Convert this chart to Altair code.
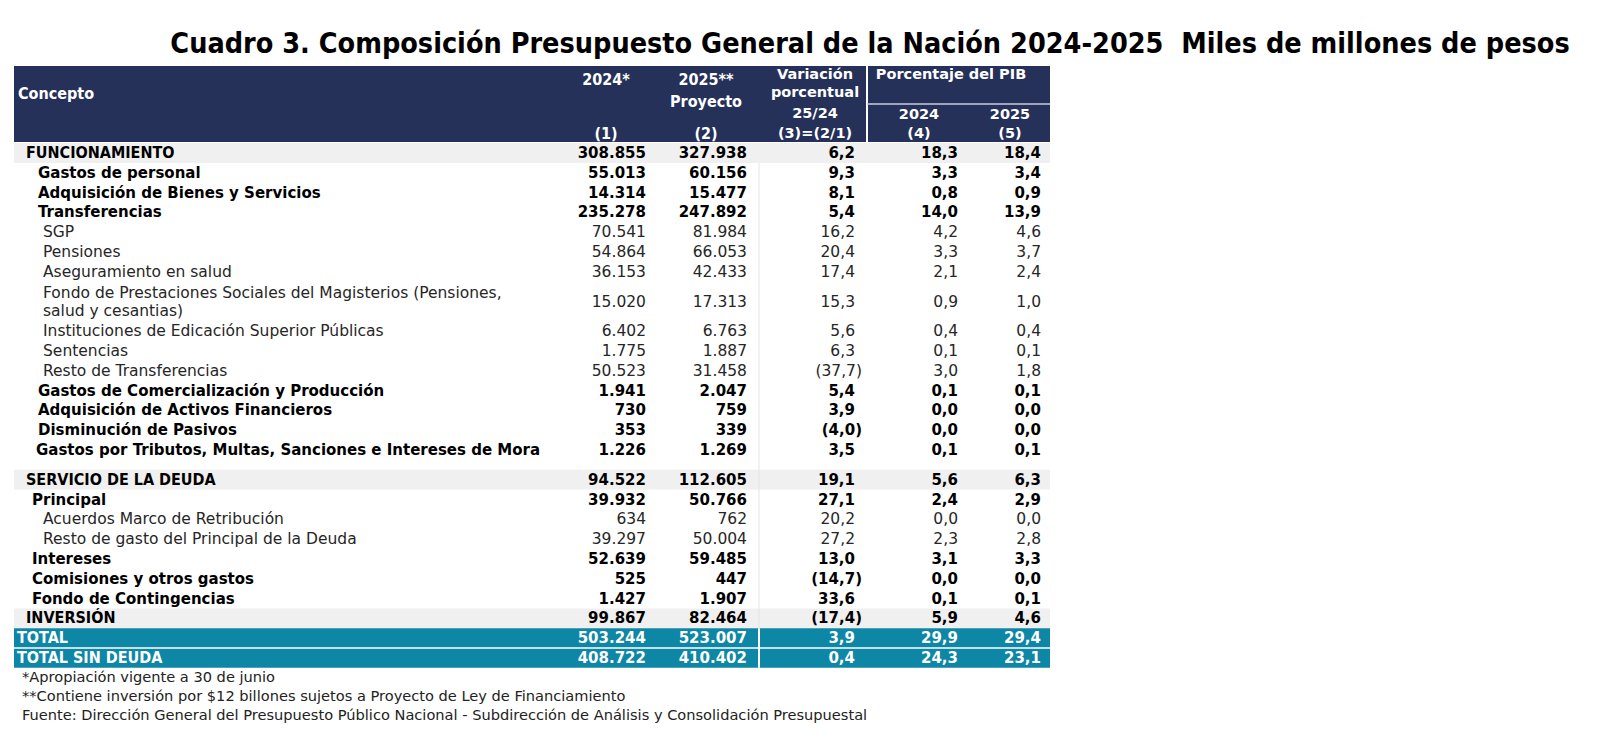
import altair as alt
import pandas as pd

# ---------------- data ----------------
title_text = "Cuadro 3. Composición Presupuesto General de la Nación 2024-2025\u00a0 Miles de millones de pesos"

concepts = [
    "FUNCIONAMIENTO",
    "Gastos de personal",
    "Adquisición de Bienes y Servicios",
    "Transferencias",
    "SGP",
    "Pensiones",
    "Aseguramiento en salud",
    "Fondo de Prestaciones Sociales del Magisterios (Pensiones,\nsalud y cesantias)",
    "Instituciones de Edicación Superior Públicas",
    "Sentencias",
    "Resto de Transferencias",
    "Gastos de Comercialización y Producción",
    "Adquisición de Activos Financieros",
    "Disminución de Pasivos",
    "Gastos por Tributos, Multas, Sanciones e Intereses de Mora",
    "SERVICIO DE LA DEUDA",
    "Principal",
    "Acuerdos Marco de Retribución",
    "Resto de gasto del Principal de la Deuda",
    "Intereses",
    "Comisiones y otros gastos",
    "Fondo de Contingencias",
    "INVERSIÓN",
    "TOTAL",
    "TOTAL SIN DEUDA",
]
levels = ["sec", "sub", "sub", "sub", "item", "item", "item", "item", "item", "item", "item",
          "sub", "sub", "sub", "sub2", "sec", "sub3", "item", "item", "sub3", "sub3", "sub3",
          "sec", "total", "total"]

v2024 = [308855, 55013, 14314, 235278, 70541, 54864, 36153, 15020, 6402, 1775, 50523, 1941, 730, 353,
         1226, 94522, 39932, 634, 39297, 52639, 525, 1427, 99867, 503244, 408722]
v2025 = [327938, 60156, 15477, 247892, 81984, 66053, 42433, 17313, 6763, 1887, 31458, 2047, 759, 339,
         1269, 112605, 50766, 762, 50004, 59485, 447, 1907, 82464, 523007, 410402]
var_pct = [6.2, 9.3, 8.1, 5.4, 16.2, 20.4, 17.4, 15.3, 5.6, 6.3, -37.7, 5.4, 3.9, -4.0, 3.5, 19.1,
           27.1, 20.2, 27.2, 13.0, -14.7, 33.6, -17.4, 3.9, 0.4]
pib2024 = [18.3, 3.3, 0.8, 14.0, 4.2, 3.3, 2.1, 0.9, 0.4, 0.1, 3.0, 0.1, 0.0, 0.0, 0.1, 5.6, 2.4, 0.0,
           2.3, 3.1, 0.0, 0.1, 5.9, 29.9, 24.3]
pib2025 = [18.4, 3.4, 0.9, 13.9, 4.6, 3.7, 2.4, 1.0, 0.4, 0.1, 1.8, 0.1, 0.0, 0.0, 0.1, 6.3, 2.9, 0.0,
           2.8, 3.3, 0.0, 0.1, 4.6, 29.4, 23.1]

head_concept = "Concepto"
head_c1 = ["2024*", "(1)"]
head_c2 = ["2025**", "Proyecto", "(2)"]
head_c3 = ["Variación", "porcentual", "25/24", "(3)=(2/1)"]
head_pib = "Porcentaje del PIB"
head_c4 = ["2024", "(4)"]
head_c5 = ["2025", "(5)"]

footnotes = [
    "*Apropiación vigente a 30 de junio",
    "**Contiene inversión por $12 billones sujetos a Proyecto de Ley de Financiamiento",
    "Fuente: Dirección General del Presupuesto Público Nacional - Subdirección de Análisis y Consolidación Presupuestal",
]

# ---------------- layout / style ----------------
W, H = 1584, 724
OFF = 8
NAVY = "#263159"
TEAL = "#0e86a5"
GRAY = "#f0f0f0"
WIDE = "DejaVu Sans"
COND = "DejaVu Sans Condensed"
BODY = 15
BODY_REG = 15.5

PITCH = 19.8
Y0 = 153
T_LEFT, T_RIGHT = 14, 1050
HEAD_TOP, HEAD_BOT = 66, 142
SEP_HEAD = 867
SEP_BODY = 759
INDENT = {"sec": 26, "sub": 38, "sub2": 36, "sub3": 32, "item": 43, "total": 17}
COL_R = [646, 747, 855, 958, 1041]
PAREN = 7
GAP_BEFORE = {"SERVICIO DE LA DEUDA": 0.5}

ypos, nlines = [], []
u = 0.0
for c in concepts:
    u += GAP_BEFORE.get(c, 0)
    n = c.count("\n") + 1
    ypos.append(Y0 + (u + (n - 1) / 2) * PITCH)
    nlines.append(n)
    u += n


def fint(v):
    return f"{v:,}".replace(",", ".")


def fdec(v):
    s = f"{abs(v):.1f}".replace(".", ",")
    return f"({s})" if v < 0 else s


def style_of(lv):
    if lv == "total":
        return "total"
    if lv == "item":
        return "reg"
    return "bold"


# label rows
lab_rows = []
for c, lv, y in zip(concepts, levels, ypos):
    parts = c.split("\n")
    k = len(parts)
    for j, p in enumerate(parts):
        yy = y + (j - (k - 1) / 2) * 18
        lab_rows.append({"x": INDENT[lv], "y": yy, "t": p,
                         "st": "sec" if lv in ("sec", "total") else style_of(lv),
                         "tot": lv == "total"})
labels = pd.DataFrame(lab_rows)

# number cells
cell_rows = []
for i, lv in enumerate(levels):
    vals = [(fint(v2024[i]), False), (fint(v2025[i]), False), (fdec(var_pct[i]), var_pct[i] < 0),
            (fdec(pib2024[i]), pib2024[i] < 0), (fdec(pib2025[i]), pib2025[i] < 0)]
    for k, (t, neg) in enumerate(vals):
        cell_rows.append({"x": COL_R[k] + (PAREN if neg else 0), "y": ypos[i], "t": t, "st": style_of(lv)})
cells = pd.DataFrame(cell_rows)

# background rectangles
rects = [{"x": T_LEFT, "x2": T_RIGHT, "y": HEAD_TOP, "y2": HEAD_BOT, "f": NAVY}]
for lv, y, n in zip(levels, ypos, nlines):
    if lv == "sec":
        rects.append({"x": T_LEFT, "x2": T_RIGHT, "y": y - PITCH / 2, "y2": y + PITCH / 2, "f": GRAY})
    if lv == "total":
        rects.append({"x": T_LEFT, "x2": T_RIGHT, "y": y - PITCH / 2, "y2": y + PITCH / 2, "f": TEAL})
rects = pd.DataFrame(rects)

body_top = ypos[0] + PITCH / 2
tot_idx = [i for i, lv in enumerate(levels) if lv == "total"]
tot_top = ypos[tot_idx[0]] - PITCH / 2
tot_bot = ypos[tot_idx[-1]] + PITCH / 2
tot_mid = (ypos[tot_idx[0]] + ypos[tot_idx[1]]) / 2
rules = pd.DataFrame([
    {"x": SEP_BODY, "x2": SEP_BODY, "y": body_top, "y2": tot_top, "c": "#e4e4e4", "w": 1},
    {"x": SEP_BODY, "x2": SEP_BODY, "y": tot_top, "y2": tot_bot, "c": "#ffffff", "w": 2},
    {"x": T_LEFT, "x2": T_RIGHT, "y": tot_mid, "y2": tot_mid, "c": "#ffffff", "w": 1.5},
    {"x": SEP_HEAD, "x2": SEP_HEAD, "y": HEAD_TOP, "y2": HEAD_BOT, "c": "#ffffff", "w": 2},
    {"x": SEP_HEAD, "x2": T_RIGHT, "y": 104, "y2": 104, "c": "#c9cde0", "w": 1.5},
])

# header texts
C1, C2, C3, C4, C5, CP = 606, 706, 815, 919, 1010, 951
head_cond = pd.DataFrame([
    {"x": 18, "y": 94, "t": head_concept, "a": "left"},
    {"x": C1, "y": 80, "t": head_c1[0], "a": "center"},
    {"x": C1, "y": 134, "t": head_c1[1], "a": "center"},
    {"x": C2, "y": 80, "t": head_c2[0], "a": "center"},
    {"x": C2, "y": 102, "t": head_c2[1], "a": "center"},
    {"x": C2, "y": 134, "t": head_c2[2], "a": "center"},
])
head_wide = pd.DataFrame([
    {"x": C3, "y": 75, "t": head_c3[0]},
    {"x": C3, "y": 93, "t": head_c3[1]},
    {"x": C3, "y": 114, "t": head_c3[2]},
    {"x": C3, "y": 134, "t": head_c3[3]},
    {"x": CP, "y": 75, "t": head_pib},
    {"x": C4, "y": 115, "t": head_c4[0]},
    {"x": C4, "y": 134, "t": head_c4[1]},
    {"x": C5, "y": 115, "t": head_c5[0]},
    {"x": C5, "y": 134, "t": head_c5[1]},
])

foot_y0 = ypos[-1] + PITCH
foot = pd.DataFrame([{"x": 22, "y": foot_y0 + i * 19, "t": t} for i, t in enumerate(footnotes)])
title_df = pd.DataFrame([{"x": 870, "y": 44, "t": title_text}])

XS = alt.Scale(domain=[OFF, OFF + W], range=[0, W])
YS = alt.Scale(domain=[OFF, OFF + H], range=[0, H])


def X(f="x"):
    return alt.X(f"{f}:Q", scale=XS, axis=None)


def Y(f="y"):
    return alt.Y(f"{f}:Q", scale=YS, axis=None)


rect_layer = alt.Chart(rects).mark_rect().encode(
    x=X(), x2="x2:Q", y=Y(), y2="y2:Q", color=alt.Color("f:N", scale=None))
rule_layer = alt.Chart(rules).mark_rule().encode(
    x=X(), x2="x2:Q", y=Y(), y2="y2:Q", color=alt.Color("c:N", scale=None),
    strokeWidth=alt.StrokeWidth("w:Q", scale=None))


def txt(df, **mk):
    return alt.Chart(df).mark_text(baseline="middle", **mk).encode(x=X(), y=Y(), text="t:N")


title_layer = txt(title_df, align="center", font=COND, fontSize=28.5, fontWeight="bold", color="#000000")
hc = txt(head_cond[head_cond.a == "left"], align="left", font=COND, fontSize=16, fontWeight="bold",
         color="#ffffff")
hc2 = txt(head_cond[head_cond.a == "center"], align="center", font=COND, fontSize=16, fontWeight="bold",
          color="#ffffff")
hw = txt(head_wide, align="center", font=WIDE, fontSize=14.5, fontWeight="bold", color="#ffffff")

lab_sec = txt(labels[(labels.st == "sec") & (~labels.tot)], align="left", font=COND, fontSize=16,
              fontWeight="bold", color="#000000")
lab_tot = txt(labels[labels.tot], align="left", font=COND, fontSize=16, fontWeight="bold", color="#ffffff")
lab_bold = txt(labels[labels.st == "bold"], align="left", font=WIDE, fontSize=BODY, fontWeight="bold",
               color="#000000")
lab_reg = txt(labels[labels.st == "reg"], align="left", font=WIDE, fontSize=BODY_REG, color="#262626")

num_bold = txt(cells[cells.st == "bold"], align="right", font=WIDE, fontSize=BODY, fontWeight="bold",
               color="#000000")
num_reg = txt(cells[cells.st == "reg"], align="right", font=WIDE, fontSize=BODY_REG, color="#262626")
num_tot = txt(cells[cells.st == "total"], align="right", font=WIDE, fontSize=BODY, fontWeight="bold",
              color="#ffffff")

foot_layer = txt(foot, align="left", font=WIDE, fontSize=14.6, color="#222222")

chart = alt.layer(
    rect_layer, rule_layer, title_layer, hc, hc2, hw,
    lab_sec, lab_tot, lab_bold, lab_reg, num_bold, num_reg, num_tot, foot_layer,
).properties(
    width=W, height=H, padding=0, autosize=alt.AutoSizeParams(type="none")
).configure(background="#ffffff", view=alt.ViewConfig(stroke=None))

chart.save("out.html", embed_options={"renderer": "svg", "actions": False})
